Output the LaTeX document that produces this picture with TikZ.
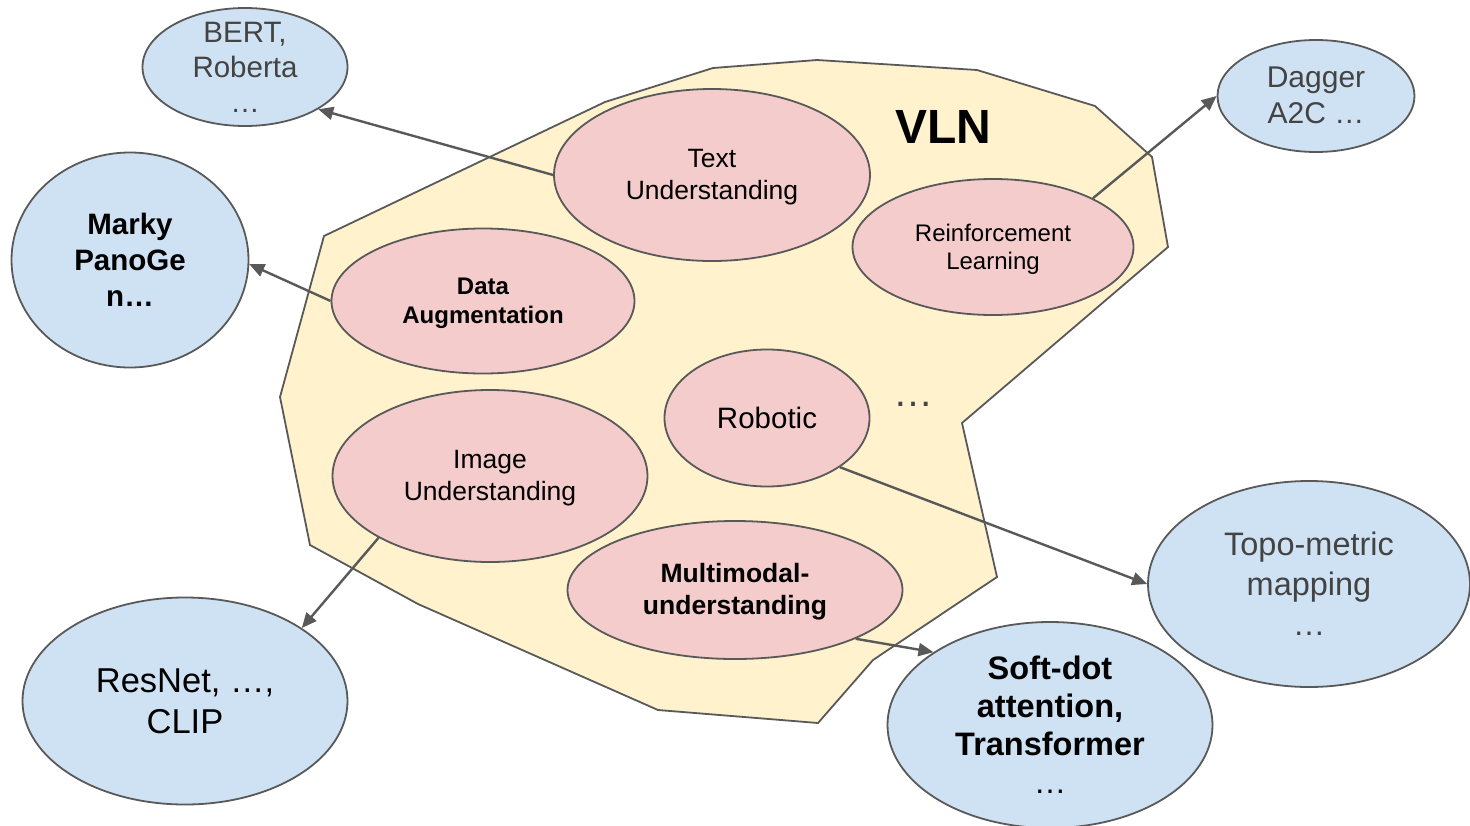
\documentclass[tikz,border=0pt]{standalone}
\usepackage{fontspec}
\setmainfont{Liberation Sans}
\usetikzlibrary{shapes.geometric,arrows.meta}
\definecolor{edgec}{HTML}{595959}
\definecolor{pinkf}{HTML}{F4CCCC}
\definecolor{bluef}{HTML}{CFE2F3}
\definecolor{yellowf}{HTML}{FFF2CC}
\definecolor{graytext}{HTML}{434343}
\begin{document}
\begin{tikzpicture}[x=1pt,y=-1pt,
  pinkell/.style={ellipse,draw=edgec,line width=1.8pt,fill=pinkf,inner sep=0pt},
  blueell/.style={ellipse,draw=edgec,line width=1.8pt,fill=bluef,inner sep=0pt},
  lbl/.style={align=center,text=black,inner sep=0pt},
  conn/.style={draw=edgec,line width=2.4pt,-{Triangle[length=15pt,width=13pt]}}]
\useasboundingbox (0,0) rectangle (1470,825);
\clip (0,0) rectangle (1470,825);
% VLN region
\draw[fill=yellowf,draw=edgec,line width=1.8pt,line join=miter]
  (324,236) -- (605,102) -- (713,68) -- (817,60) -- (977,70) -- (1095,106)
  -- (1152,157) -- (1168,247) -- (962,423) -- (997,577) -- (873,660)
  -- (818,723) -- (658,710) -- (418,604) -- (310,545) -- (280,397) -- cycle;
\node[font=\fontsize{48}{52}\selectfont\bfseries,inner sep=0pt] (vln) at (943,127) {VLN};
\node[font=\fontsize{40}{44}\selectfont,text=graytext,inner sep=0pt] (dots) at (913,404) {…};
% pink ellipses
\node[pinkell,minimum width=316pt,minimum height=172pt,
  label={[lbl,yshift=-2pt,font=\fontsize{26.5}{32}\selectfont]center:{Text\\Understanding}}] (TU) at (712,175) {};
\node[pinkell,minimum width=281pt,minimum height=136pt,
  label={[lbl,yshift=-2pt,font=\fontsize{24}{28}\selectfont]center:{Reinforcement\\Learning}}] (RL) at (993,247) {};
\node[pinkell,minimum width=303pt,minimum height=145pt,
  label={[lbl,yshift=-2pt,font=\fontsize{24}{29}\selectfont\bfseries]center:{Data\\Augmentation}}] (DA) at (483,301) {};
\node[pinkell,minimum width=205pt,minimum height=137pt,
  label={[lbl,font=\fontsize{29.5}{32}\selectfont]center:{Robotic}}] (RB) at (767,418) {};
\node[pinkell,minimum width=315pt,minimum height=172pt,
  label={[lbl,yshift=-2pt,font=\fontsize{26.5}{32}\selectfont]center:{Image\\Understanding}}] (IU) at (490,476) {};
\node[pinkell,minimum width=335pt,minimum height=138pt,
  label={[lbl,yshift=-2pt,font=\fontsize{26.5}{32}\selectfont\bfseries]center:{Multimodal-\\understanding}}] (MM) at (735,590) {};
% blue ellipses
\node[blueell,minimum width=205pt,minimum height=118pt,
  label={[lbl,text=graytext,font=\fontsize{29.5}{35}\selectfont]center:{BERT,\\Roberta\\…}}] (BERT) at (245,67) {};
\node[blueell,minimum width=237pt,minimum height=215pt,
  label={[lbl,font=\fontsize{29.5}{36}\selectfont\bfseries]center:{Marky\\PanoGe\\n…}}] (MK) at (130,260) {};
\node[blueell,minimum width=197pt,minimum height=112pt,
  label={[lbl,yshift=1pt,text=graytext,font=\fontsize{30}{36}\selectfont]center:{Dagger\\A2C …}}] (DG) at (1316,96) {};
\node[blueell,minimum width=325pt,minimum height=207pt,
  label={[lbl,font=\fontsize{34.5}{41}\selectfont]center:{ResNet, …,\\CLIP}}] (RN) at (185,701) {};
\node[blueell,minimum width=322pt,minimum height=206pt,
  label={[lbl,text=graytext,font=\fontsize{32.5}{40}\selectfont]center:{Topo-metric\\mapping\\…}}] (TP) at (1309,584) {};
\node[blueell,minimum width=325pt,minimum height=206pt,
  label={[lbl,font=\fontsize{32.5}{38}\selectfont\bfseries]center:{Soft-dot\\attention,\\Transformer\\{\mdseries …}}}] (SD) at (1050,725) {};
% connectors
\draw[conn] (TU.west) -- (BERT.-30);
\draw[conn] (DA.west) -- (MK.-2);
\draw[conn] (RL.26) -- (DG.west);
\draw[conn] (IU.209) -- (RN.32);
\draw[conn] (RB.-34) -- (TP.west);
\draw[conn] (MM.-22) -- (SD.148);
\end{tikzpicture}
\end{document}
